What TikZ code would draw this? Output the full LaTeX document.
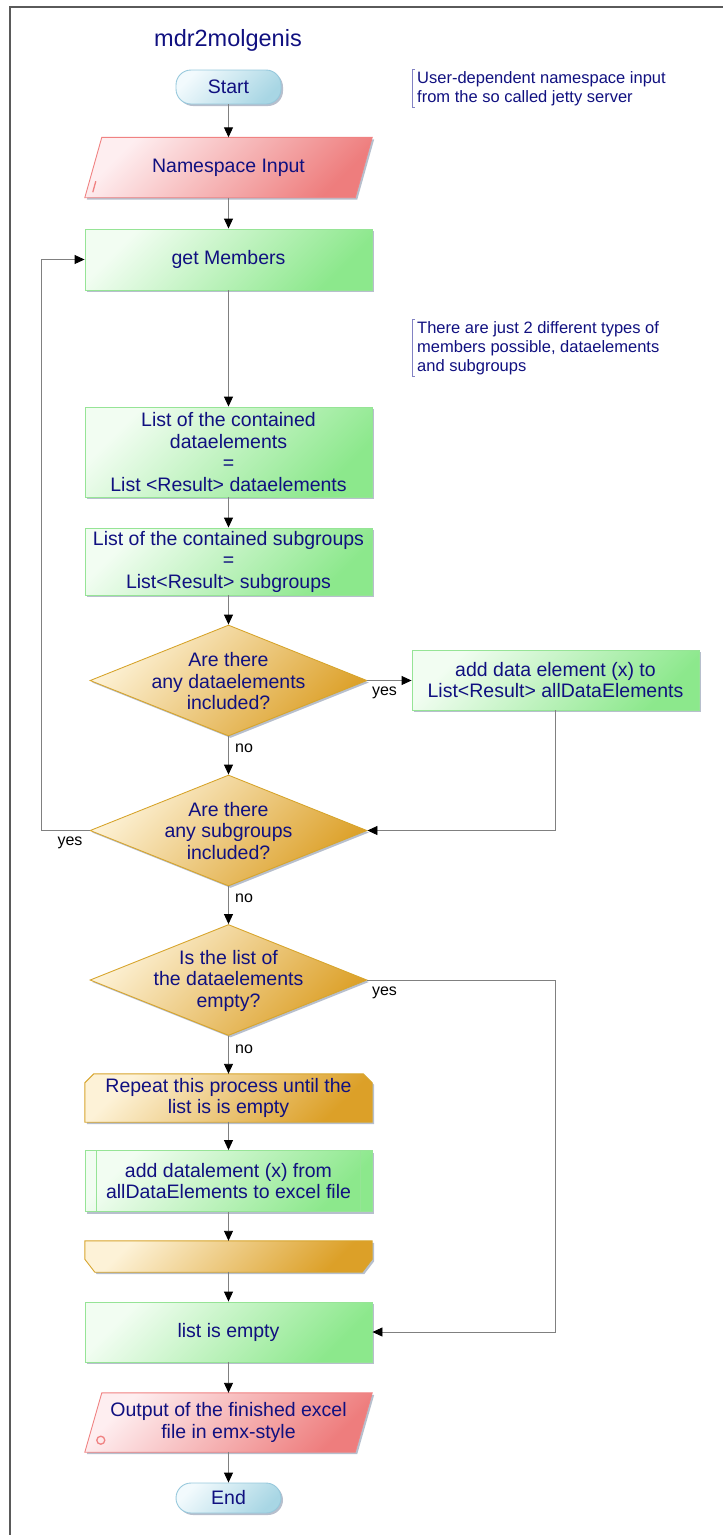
\documentclass[tikz,border=0pt]{standalone}
\usepackage{fontspec}
\setmainfont{Liberation Sans}
\usetikzlibrary{arrows.meta,shapes.geometric,shadows,calc}

\definecolor{txt}{RGB}{16,16,128}
\definecolor{grnL}{RGB}{242,253,242}
\definecolor{grnD}{RGB}{140,232,140}
\definecolor{grnB}{RGB}{150,228,150}
\definecolor{redL}{RGB}{254,238,240}
\definecolor{redD}{RGB}{238,125,125}
\definecolor{redB}{RGB}{240,130,130}
\definecolor{orL}{RGB}{253,242,215}
\definecolor{orD}{RGB}{220,160,40}
\definecolor{orB}{RGB}{215,165,45}
\definecolor{bluL}{RGB}{242,250,253}
\definecolor{bluD}{RGB}{168,214,228}
\definecolor{bluB}{RGB}{150,200,220}
\definecolor{wire}{RGB}{128,128,128}
\definecolor{brk}{RGB}{130,130,195}
\definecolor{framec}{RGB}{90,90,90}
\definecolor{shadowc}{RGB}{165,175,192}

\pgfdeclarelayer{bg}
\pgfsetlayers{bg,main}

\tikzset{
  every node/.style={font=\fontsize{19.5}{21.5}\selectfont, text=txt, align=center, inner sep=2pt},
  shd/.style={drop shadow={shadow xshift=2pt, shadow yshift=-2pt, fill=shadowc, opacity=0.8}},
  gbox/.style={rectangle, draw=grnB, line width=0.9pt, top color=grnL, bottom color=grnD, shading angle=45, shd, minimum width=287, minimum height=61},
  term/.style={rectangle, rounded corners=15pt, draw=bluB, line width=0.9pt, top color=bluL, bottom color=bluD, shading angle=45, shd, minimum width=105},
  dia/.style={diamond, draw=orB, line width=0.9pt, top color=orL, bottom color=orD, shading angle=45, shd, minimum width=277, minimum height=111, inner sep=0pt},
  plainbox/.style={rectangle, minimum width=287},
  redshape/.style={draw=redB, line width=0.9pt, top color=redL, bottom color=redD, shading angle=45, shd},
  orshape/.style={draw=orB, line width=0.9pt, top color=orL, bottom color=orD, shading angle=45, shd},
  note/.style={font=\fontsize{16.5}{19}\selectfont, align=left, inner xsep=5pt, inner ysep=2pt, anchor=west},
  bracket/.style={draw=brk, line width=0.8pt},
  lbl/.style={font=\fontsize{16}{18}\selectfont, text=black},
  arr/.style={draw=wire, line width=0.9pt, -{Triangle[length=10pt,width=9pt,color=black]}},
  framel/.style={draw=framec, line width=1.2pt},
  ttl/.style={font=\fontsize{23.5}{26}\selectfont}
}

\begin{document}
\begin{tikzpicture}[x=1pt,y=-1pt]
\useasboundingbox (0,0) rectangle (723,1535);

% page frame
\draw[framel] (10,1535) -- (10,7) -- (723,7);

% title and notes
\node[ttl] (title) at (228,40) {mdr2molgenis};
\node[note] (c1) at (412,88.5) {User-dependent namespace input\\from the so called jetty server};
\draw[bracket] ($(c1.north west)+(3,0)$) -- (c1.north west) -- (c1.south west) -- ++(3,0);
\node[note] (c2) at (412,348) {There are just 2 different types of\\members possible, dataelements\\and subgroups};
\draw[bracket] ($(c2.north west)+(3,0)$) -- (c2.north west) -- (c2.south west) -- ++(3,0);

% main column
\node[term, minimum height=34] (start) at (228.5,87) {Start};
\node[plainbox, minimum height=60] (ns) at (228.5,167.5) {Namespace Input};
\node[gbox] (gm) at (228.5,259.5) {get Members};
\node[gbox, minimum height=90] (l1) at (228.5,452) {List of the contained\\dataelements\\=\\List <Result> dataelements};
\node[gbox, minimum height=67] (l2) at (228.5,561.5) {List of the contained subgroups\\=\\List<Result> subgroups};
\node[dia] (d1) at (228.5,680.5) {};
\node (d1t) at (228.5,681.5) {Are there\\any dataelements\\included?};
\node[gbox, minimum height=60] (add) at (555.5,680) {add data element (x) to\\List<Result> allDataElements};
\node[dia] (d2) at (228.5,830.5) {};
\node (d2t) at (228.5,831) {Are there\\any subgroups\\included?};
\node[dia] (d3) at (228.5,980) {};
\node (d3t) at (228.5,980.5) {Is the list of\\the dataelements\\empty?};
\node[plainbox, minimum height=48] (lb) at (228.5,1098) {Repeat this process until the\\list is is empty};
\node[gbox] (sub) at (228.5,1181) {add datalement (x) from\\allDataElements to excel file};
\node[plainbox, minimum height=31] (le) at (228.5,1256.5) {};
\node[gbox, minimum height=60] (empty) at (228.5,1332) {list is empty};
\node[plainbox, minimum height=59] (out) at (228.5,1422.5) {Output of the finished excel\\file in emx-style};
\node[term, minimum height=30] (end) at (228.5,1498) {End};

% shaped outlines behind the text
\begin{pgfonlayer}{bg}
  \path[redshape] ($(ns.north west)+(17,0)$) -- (ns.north east) -- ($(ns.south east)+(-17,0)$) -- (ns.south west) -- cycle;
  \path[redshape] ($(out.north west)+(17,0)$) -- (out.north east) -- ($(out.south east)+(-17,0)$) -- (out.south west) -- cycle;
  \path[orshape] (lb.south west) -- ($(lb.north west)+(0,9)$) -- ($(lb.north west)+(9,0)$) -- ($(lb.north east)+(-9,0)$) -- ($(lb.north east)+(0,9)$) -- (lb.south east) -- cycle;
  \path[orshape] (le.north west) -- (le.north east) -- ($(le.south east)+(0,-13)$) -- ($(le.south east)+(-10,0)$) -- ($(le.south west)+(10,0)$) -- ($(le.south west)+(0,-13)$) -- cycle;
\end{pgfonlayer}

% markers on the input / output shapes and subroutine bars
\draw[redB, line width=1.3pt] ($(ns.south west)+(8,-5.5)$) -- ++(3,-11);
\draw[redB, line width=1.3pt] ($(out.south west)+(16,-12)$) circle[radius=4pt];
\draw[grnB, line width=0.9pt] ($(sub.north west)+(12,0)$) -- ($(sub.south west)+(12,0)$);
\draw[grnB, line width=0.9pt] ($(sub.north east)+(-12,0)$) -- ($(sub.south east)+(-12,0)$);

% connectors
\coordinate (lp) at (41,830.5);
\draw[arr] (start) -- (ns);
\draw[arr] (ns) -- (gm);
\draw[arr] (gm) -- (l1);
\draw[arr] (l1) -- (l2);
\draw[arr] (l2) -- (d1);
\draw[arr] (d1.east) -- (d1.east -| add.west);
\draw[arr] (d1) -- (d2);
\draw[arr] (add.south) |- (d2.east);
\draw[arr] (d2.west) -- (lp) |- (gm.west);
\draw[arr] (d2) -- (d3);
\draw[arr] (d3.east) -- (d3.east -| add.south) |- (empty.east);
\draw[arr] (d3) -- (lb);
\draw[arr] (lb) -- (sub);
\draw[arr] (sub) -- (le);
\draw[arr] (le) -- (empty);
\draw[arr] (empty) -- (out);
\draw[arr] (out) -- (end);

% branch labels
\node[lbl] (y1) at (384.5,693) {yes};
\node[lbl, anchor=west] (n1) at (233,748) {no};
\node[lbl] (y2) at (70,843) {yes};
\node[lbl, anchor=west] (n2) at (233,898) {no};
\node[lbl] (y3) at (384.5,993) {yes};
\node[lbl, anchor=west] (n3) at (233,1049) {no};
\end{tikzpicture}
\end{document}
